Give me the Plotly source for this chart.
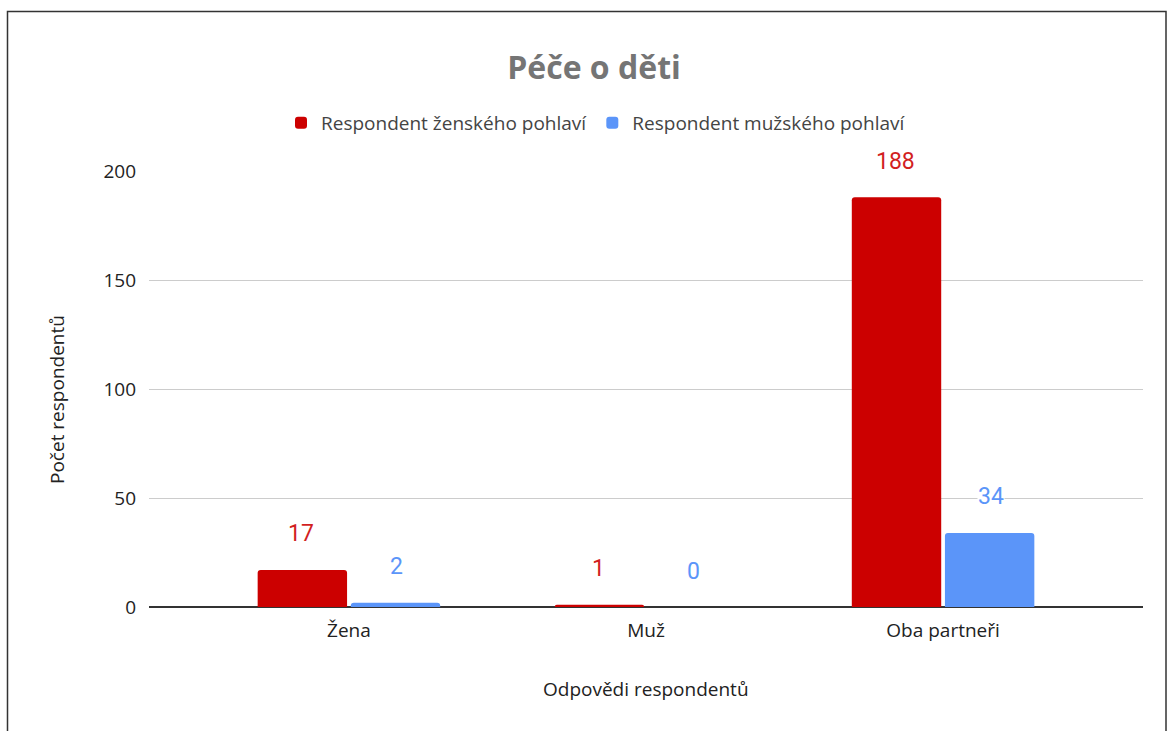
import plotly.graph_objects as go

categories = ["Žena", "Muž", "Oba partneři"]
female = [17, 1, 188]
male = [2, 0, 34]
series_names = ["Respondent ženského pohlaví", "Respondent mužského pohlaví"]
y_ticks = [0, 50, 100, 150, 200]

RED = "#cc0000"
BLUE = "#5b95f9"
FONT = "Open Sans"

W, H = 1168, 731
L, R, T, B = 149, 25, 171, 124
pw, ph = W - L - R, H - T - B

def px_x(p):
    return (p - L) / pw

def px_y(p):
    return (H - B - p) / ph

fig = go.Figure()
fig.add_trace(go.Bar(name=series_names[0], x=categories, y=female,
                     marker=dict(color=RED, line=dict(width=0))))
fig.add_trace(go.Bar(name=series_names[1], x=categories, y=male,
                     marker=dict(color=BLUE, line=dict(width=0))))

annotations = []
for i, c in enumerate(categories):
    for vals, col, off in ((female, "#d21f1f", -0.16), (male, BLUE, 0.16)):
        annotations.append(dict(
            x=i + off, y=vals[i], xref="x", yref="y", text=str(vals[i]),
            showarrow=False, yshift=36, yanchor="middle", xanchor="center",
            font=dict(family="Roboto", size=23, color=col),
            bgcolor="white", borderpad=0))

annotations.append(dict(text="Počet respondentů", x=px_x(57), y=px_y(400),
                        xref="paper", yref="paper", showarrow=False, textangle=-90,
                        xanchor="center", yanchor="middle",
                        font=dict(family=FONT, size=19, color="#222")))
annotations.append(dict(text="Odpovědi respondentů", x=px_x(646), y=px_y(689),
                        xref="paper", yref="paper", showarrow=False,
                        xanchor="center", yanchor="middle",
                        font=dict(family=FONT, size=19, color="#222")))

fig.update_layout(
    width=W, height=H,
    margin=dict(l=L, r=R, t=T, b=B, autoexpand=False),
    paper_bgcolor="white", plot_bgcolor="white",
    title=dict(text="<b>Péče o děti</b>", x=594 / W, xanchor="center",
               y=1 - 68 / H, yanchor="middle",
               font=dict(family=FONT, size=32, color="#757575")),
    barmode="group", bargap=0.373, bargroupgap=0.04, barcornerradius=3,
    legend=dict(orientation="h", x=px_x(596), xanchor="center", y=px_y(123),
                yanchor="middle", font=dict(family=FONT, size=19, color="#444"),
                traceorder="normal"),
    xaxis=dict(range=[-0.673, 2.673], showgrid=False, showline=False, ticks="",
               ticklabelstandoff=10,
               tickfont=dict(family=FONT, size=19, color="#222"), zeroline=False),
    yaxis=dict(range=[0, 200], tickvals=y_ticks, showgrid=True, gridcolor="#cccccc",
               gridwidth=1, zeroline=True, zerolinecolor="#333333", zerolinewidth=2,
               showline=False, ticks="", ticklabelstandoff=12,
               tickfont=dict(family=FONT, size=19, color="#222")),
    annotations=annotations,
    shapes=[dict(type="rect", xref="paper", yref="paper",
                 x0=px_x(7.5), x1=px_x(1166), y0=px_y(760), y1=px_y(11.5),
                 line=dict(color="#333", width=1.5), fillcolor="rgba(0,0,0,0)",
                 layer="above")],
)
fig.write_html("out.html", config={"displayModeBar": False},
               post_script="document.body.style.margin='0px';")
